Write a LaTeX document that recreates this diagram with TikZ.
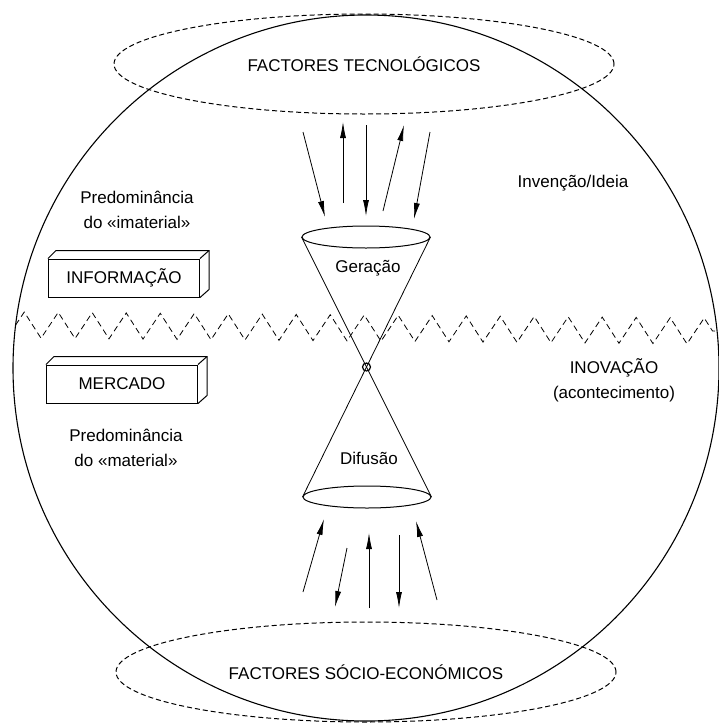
\documentclass[tikz,border=0pt]{standalone}
\usepackage{fontspec}
\setmainfont{Liberation Sans}
\usetikzlibrary{shapes.geometric,arrows.meta,decorations.pathmorphing}
\tikzstyle{arrow} = [line width=0.8pt,-{Latex[length=16pt,width=6pt]}]
\tikzstyle{factor} = [draw,dash pattern=on 5pt off 3pt,ellipse,line width=1pt,minimum width=500pt,minimum height=100pt,inner sep=0pt]
\tikzstyle{cone} = [draw,ellipse,line width=1pt,minimum width=128pt,minimum height=22pt,inner sep=0pt]
\tikzstyle{block} = [draw,line width=1pt,minimum width=151pt,minimum height=38pt,inner sep=0pt]
\tikzstyle{txt} = [align=center]

\begin{document}
\begin{tikzpicture}[x=1pt,y=-1pt,font=\fontsize{17}{25}\selectfont]

        \useasboundingbox (0,0) rectangle (718,723);

        % The whole world of the innovation
        \node[draw,circle,line width=1.1pt,minimum size=706pt,inner sep=0pt,outer sep=0pt] (globe) at (366,368) {};

        % Technological and socio-economic factors
        \node[factor] (tec) at (364,64) {FACTORES TECNOLÓGICOS};
        \node[factor] (soc) at (366,672) {FACTORES SÓCIO-ECONÓMICOS};

        % Border between immaterial and material
        \draw[line width=0.8pt,dash pattern=on 6pt off 4pt,decorate,decoration={zigzag,segment length=34pt,amplitude=13pt}]
            (globe.173.5) -- (globe.6.5);

        % Hourglass: generation and diffusion
        \node[cone] (gen) at (366,237) {};
        \node[cone] (dif) at (367,497) {};
        \draw[line width=0.8pt] (gen.west) -- (dif.east);
        \draw[line width=0.8pt] (gen.east) -- (dif.west);
        \node[draw,circle,line width=1.2pt,minimum size=8pt,inner sep=0pt] (inov) at (366.5,367) {};
        \node (geracao) at (368,268) {Geração};
        \node (difusao) at (369,458) {Difusão};

        % Information box (immaterial side)
        \node[block] (info) at (124,278) {INFORMAÇÃO};
        \draw[line width=1pt] (info.north west) -- ++(8,-8) -- ([shift={(9,-8)}]info.north east)
            -- ([shift={(9,-8)}]info.south east) -- (info.south east);
        \draw[line width=1pt] (info.north east) -- ([shift={(9,-8)}]info.north east);

        % Market box (material side)
        \node[block] (merc) at (122,384) {MERCADO};
        \draw[line width=1pt] (merc.north west) -- ++(8,-8) -- ([shift={(9,-8)}]merc.north east)
            -- ([shift={(9,-8)}]merc.south east) -- (merc.south east);
        \draw[line width=1pt] (merc.north east) -- ([shift={(9,-8)}]merc.north east);

        % Free texts
        \node[txt] (imat) at (137,210) {Predominância\\do «imaterial»};
        \node[txt] (mat) at (126,448) {Predominância\\do «material»};
        \node (ideia) at (573,183) {Invenção/Ideia};
        \node[txt] (acont) at (614,380) {INOVAÇÃO\\(acontecimento)};

        % Arrow ends between technological factors and generation
        \coordinate (t1a) at (303,132);  \coordinate (t1b) at (325,217);
        \coordinate (t2a) at (343,203);  \coordinate (t2b) at (343,122);
        \coordinate (t3a) at (366,125);  \coordinate (t3b) at (366,216);
        \coordinate (t4a) at (383,211);  \coordinate (t4b) at (404,125);
        \coordinate (t5a) at (430,132);  \coordinate (t5b) at (414,219);
        \draw[arrow] (t1a) -- (t1b);     % down
        \draw[arrow] (t2a) -- (t2b);     % up
        \draw[arrow] (t3a) -- (t3b);     % down
        \draw[arrow] (t4a) -- (t4b);     % up
        \draw[arrow] (t5a) -- (t5b);     % down

        % Arrow ends between diffusion and socio-economic factors
        \coordinate (b1a) at (303,592);  \coordinate (b1b) at (324,519);
        \coordinate (b2a) at (347,548);  \coordinate (b2b) at (335,607);
        \coordinate (b3a) at (369,608);  \coordinate (b3b) at (369,533);
        \coordinate (b4a) at (399,535);  \coordinate (b4b) at (399,608);
        \coordinate (b5a) at (437,600);  \coordinate (b5b) at (416,521);
        \draw[arrow] (b1a) -- (b1b);     % up
        \draw[arrow] (b2a) -- (b2b);     % down
        \draw[arrow] (b3a) -- (b3b);     % up
        \draw[arrow] (b4a) -- (b4b);     % down
        \draw[arrow] (b5a) -- (b5b);     % up

\end{tikzpicture}
\end{document}
